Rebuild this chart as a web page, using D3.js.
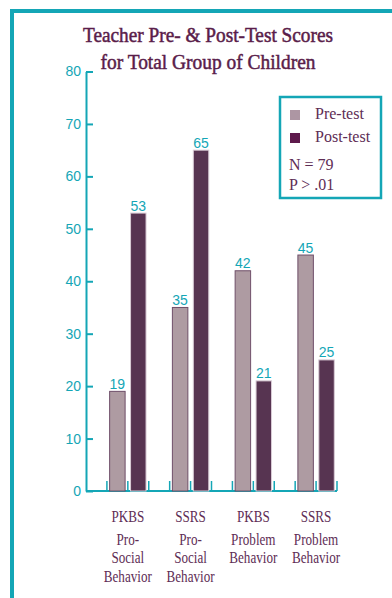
<!DOCTYPE html>
<html>
<head>
<meta charset="utf-8">
<script src="https://cdn.jsdelivr.net/npm/d3@7"></script>
<style>
  html, body { margin: 0; padding: 0; background: #fff; }
  svg { display: block; }
</style>
</head>
<body>
<div id="chart"></div>
<script>
// data
const categories = ['PKBS Pro-Social', 'SSRS Pro-Social', 'PKBS Problem', 'SSRS Problem'];
const categoryLines = [
  ['PKBS', 'Pro-', 'Social', 'Behavior'],
  ['SSRS', 'Pro-', 'Social', 'Behavior'],
  ['PKBS', 'Problem', 'Behavior'],
  ['SSRS', 'Problem', 'Behavior']
];
const series = ['Pre-test', 'Post-test'];
const preScores = [19, 35, 42, 45];
const postScores = [53, 65, 21, 25];
const yTicks = [0, 10, 20, 30, 40, 50, 60, 70, 80];
const titleLines = ['Teacher Pre- & Post-Test Scores', 'for Total Group of Children'];
const notes = ['N = 79', 'P > .01'];

const teal = '#14a6b6',
    plum = '#5a1d4a',
    textPlum = '#5e2d55',
    colors = {'Pre-test': '#ae9ba2', 'Post-test': '#573451'},
    strokes = {'Pre-test': '#6f4f69', 'Post-test': '#d9ccd6'};

const svg = d3.select('#chart').append('svg').attr('width', 392).attr('height', 598),
    margin = {top: 71.5, left: 86, right: 55, bottom: 107},
    width = 392 - margin.left - margin.right,
    height = 598 - margin.top - margin.bottom;

// frame
svg.append('rect')
    .attr('x', 12).attr('y', 11)
    .attr('width', 420).attr('height', 620)
    .attr('fill', 'none')
    .attr('stroke', teal)
    .attr('stroke-width', 4);

// title
svg.append('g').selectAll('text')
  .data(titleLines)
  .enter().append('text')
    .attr('x', 208)
    .attr('y', (d, i) => 42 + i * 26.5)
    .attr('text-anchor', 'middle')
    .attr('font-family', 'Liberation Serif, serif')
    .attr('font-size', 21)
    .attr('fill', plum)
    .attr('stroke', plum)
    .attr('stroke-width', 0.5)
    .attr('textLength', (d, i) => i === 0 ? 250 : 215)
    .attr('lengthAdjust', 'spacingAndGlyphs')
    .text(d => d);

var x0 = d3.scaleBand()
    .domain(categories)
    .range([0, 251])
    .paddingInner(1 / 3)
    .paddingOuter(1 / 6)
    .align(1);

var x1 = d3.scaleBand()
    .domain(series)
    .range([0, x0.bandwidth()])
    .paddingInner(0.26)
    .paddingOuter(0.13);

var y = d3.scaleLinear().domain([0, 80]).range([height, 0]);

var g = svg.append('g')
    .attr('transform', 'translate(' + margin.left + ',' + margin.top + ')');

// y axis
var yAxis = g.append('g')
    .attr('class', 'axis y')
    .call(d3.axisLeft(y).tickValues(yTicks).tickSize(-7).tickPadding(5).tickSizeOuter(0));
yAxis.select('.domain').attr('stroke', teal).attr('stroke-width', 2);
yAxis.selectAll('.tick line').attr('stroke', teal).attr('stroke-width', 2);
yAxis.selectAll('.tick text')
    .attr('fill', teal)
    .attr('font-family', 'Liberation Sans, Arial, sans-serif')
    .attr('font-size', 14);

// x axis baseline with small upward ticks at the bar slots
g.append('line')
    .attr('x1', 0).attr('x2', x0.range()[1])
    .attr('y1', height).attr('y2', height)
    .attr('stroke', teal).attr('stroke-width', 2);

var slot = x0.step() / 3;
var tickXs = [];
categories.forEach(c => { tickXs.push(x0(c), x0(c) + slot, x0(c) + 2 * slot); });
g.append('g').selectAll('line')
  .data(tickXs)
  .enter().append('line')
    .attr('x1', d => d).attr('x2', d => d)
    .attr('y1', height).attr('y2', height - 10)
    .attr('stroke', teal).attr('stroke-width', 1.5);

// bars
var rows = categories.map((c, i) => ({
  category: c,
  values: [{key: 'Pre-test', value: preScores[i]}, {key: 'Post-test', value: postScores[i]}]
}));

var groups = g.selectAll('.group')
  .data(rows)
  .enter().append('g')
    .attr('class', 'group')
    .attr('transform', d => 'translate(' + x0(d.category) + ',0)');

groups.selectAll('rect')
  .data(d => d.values)
  .enter().append('rect')
    .attr('x', d => x1(d.key))
    .attr('y', d => y(d.value))
    .attr('width', x1.bandwidth())
    .attr('height', d => height - y(d.value))
    .attr('fill', d => colors[d.key])
    .attr('stroke', d => strokes[d.key])
    .attr('stroke-width', 1);

groups.selectAll('.value')
  .data(d => d.values)
  .enter().append('text')
    .attr('class', 'value')
    .attr('x', d => x1(d.key) + x1.bandwidth() / 2)
    .attr('y', d => y(d.value) - 2.5)
    .attr('text-anchor', 'middle')
    .attr('font-family', 'Liberation Sans, Arial, sans-serif')
    .attr('font-size', 14)
    .attr('fill', teal)
    .text(d => d.value);

// category labels under the axis
var labels = g.selectAll('.cat')
  .data(categories)
  .enter().append('g')
    .attr('class', 'cat')
    .attr('transform', (d, i) => 'translate(' + (x0(d) + x0.bandwidth() / 2) + ',' + (height + 30.5) + ')');

labels.each(function (d, i) {
  var t = d3.select(this).append('g').attr('transform', 'scale(0.82,1)');
  t.selectAll('text')
    .data(categoryLines[i])
    .enter().append('text')
      .attr('x', 0)
      .attr('y', (l, j) => j === 0 ? 0 : 5 + j * 18.5)
      .attr('text-anchor', 'middle')
      .attr('font-family', 'Liberation Serif, serif')
      .attr('font-size', 16)
      .attr('fill', textPlum)
      .text(l => l);
});

// legend
var legend = svg.append('g').attr('transform', 'translate(280,97)');
legend.append('rect')
    .attr('width', 101).attr('height', 101)
    .attr('fill', '#fff')
    .attr('stroke', teal)
    .attr('stroke-width', 2.5);

series.forEach((s, i) => {
  legend.append('rect')
      .attr('x', 10).attr('y', 13 + i * 23)
      .attr('width', 10).attr('height', 10)
      .attr('fill', i === 0 ? '#ad96a3' : '#5e1a4c');
  legend.append('text')
      .attr('x', 35).attr('y', 22 + i * 23)
      .attr('font-family', 'Liberation Serif, serif')
      .attr('font-size', 16)
      .attr('fill', textPlum)
      .text(s);
});

notes.forEach((n, i) => {
  legend.append('text')
      .attr('x', 9).attr('y', 73 + i * 20)
      .attr('font-family', 'Liberation Serif, serif')
      .attr('font-size', 16)
      .attr('fill', textPlum)
      .text(n);
});
</script>
</body>
</html>
